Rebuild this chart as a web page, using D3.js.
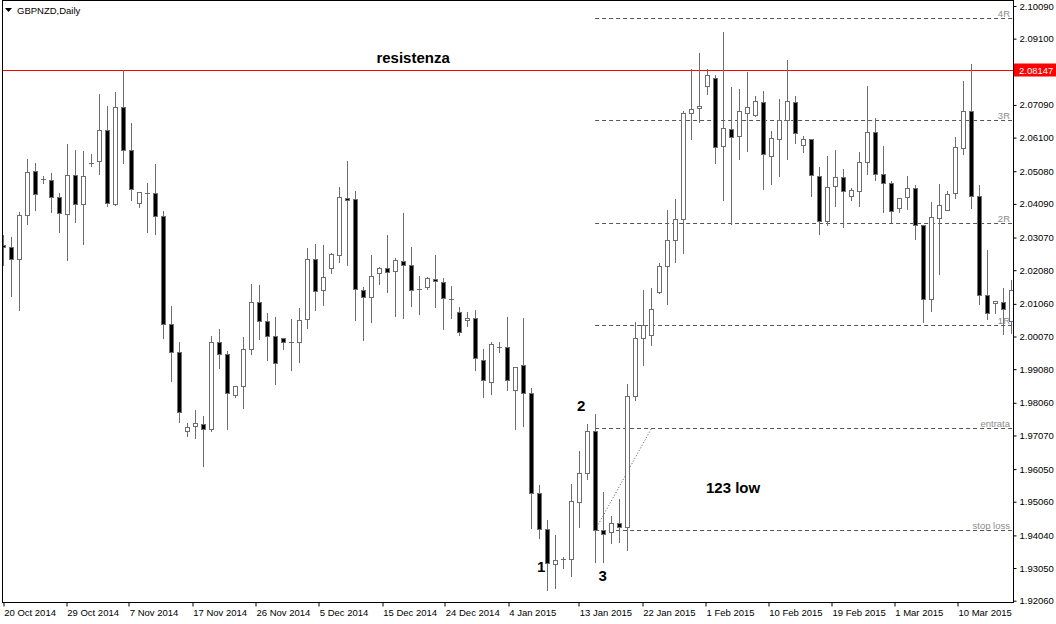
<!DOCTYPE html>
<html><head><meta charset="utf-8">
<script src="https://cdn.jsdelivr.net/npm/d3@7"></script>
<style>
html,body{margin:0;padding:0;background:#fff;}
svg{display:block;}
text{font-family:"Liberation Sans",Arial,sans-serif;}
</style></head><body>
<svg id="c" width="1056" height="624"></svg>
<script>
// ---- data (GBPNZD daily) ----
const openP = [2.02844,2.02774,2.02429,2.03745,2.05079,2.04845,2.04806,2.04290,2.03793,2.04957,2.04096,2.05330,2.05382,2.06322,2.04078,2.07019,2.05715,2.04108,2.04421,2.04412,
2.03714,2.00440,1.99591,1.97205,1.97347,1.97426,1.97257,1.99894,1.99530,1.98287,1.98560,1.99682,2.01107,2.00531,2.00076,2.00015,1.99894,1.99894,2.00591,2.02420,
2.01471,2.02138,2.02532,2.04278,2.04230,2.01471,2.01259,2.02004,2.02138,2.02047,2.02350,2.02229,2.01501,2.01580,2.01822,2.01731,2.01198,2.00804,2.00561,2.00622,
1.99348,1.98700,1.99743,1.99743,1.98457,1.99197,1.98348,1.95334,1.94225,1.93164,1.93315,1.93315,1.95062,1.95922,1.97214,1.94203,1.94134,1.94407,1.94294,1.98266,
2.00025,2.00116,2.01428,2.02198,2.02987,2.03623,2.06837,2.06989,2.07656,2.07898,2.05837,2.06370,2.06140,2.06837,2.06776,2.07171,2.05552,2.06049,2.06625,2.07171,
2.05867,2.06049,2.04927,2.03581,2.04624,2.04897,2.04321,2.04472,2.05351,2.06261,2.04988,2.04715,2.03957,2.04290,2.04563,2.03460,2.01198,2.03654,2.03896,2.04412,
2.05794,2.06898,2.04321,2.01319,2.01077,2.01116,2.00540];
const highP = [2.03147,2.03078,2.03854,2.05451,2.05330,2.04927,2.05027,2.04421,2.05906,2.05733,2.05694,2.05603,2.07431,2.07058,2.07474,2.08141,2.06543,2.04442,2.04724,2.05300,
2.03875,2.00995,1.99903,1.97438,1.97842,1.97660,2.00085,2.00297,1.99640,1.98560,2.00055,2.01662,2.01631,2.00783,2.00661,2.00015,2.00601,2.00934,2.02753,2.02874,
2.02844,2.02611,2.04603,2.05391,2.04481,2.01571,2.02541,2.02186,2.03147,2.02450,2.03814,2.02784,2.01904,2.01883,2.02541,2.01844,2.01601,2.00974,2.00804,2.00873,
1.99691,1.99903,1.99894,2.00670,1.99136,2.00631,1.98500,1.95577,1.94498,1.94052,1.93376,1.95598,1.96599,1.97408,1.97720,1.95355,1.94628,1.95143,1.98630,2.00519,
2.01480,2.01531,2.02298,2.03896,2.04239,2.06898,2.08171,2.08665,2.08189,2.07998,2.09311,2.07634,2.07574,2.08089,2.07352,2.07504,2.06300,2.07261,2.08453,2.07352,
2.06140,2.06049,2.05218,2.05533,2.05715,2.05148,2.04572,2.05655,2.07674,2.06685,2.05846,2.04776,2.04260,2.04936,2.04654,2.03460,2.04148,2.04694,2.04490,2.06109,
2.07807,2.08332,2.04654,2.02683,2.01137,2.01540,2.01783];
const lowP = [2.02238,2.01307,2.00873,2.03490,2.03914,2.04715,2.03854,2.03247,2.02398,2.03551,2.02884,2.05239,2.05006,2.04017,2.04066,2.05321,2.04208,2.03996,2.03238,2.03178,
2.00034,1.98730,1.97487,1.97062,1.97002,1.96153,1.97214,1.99124,1.97275,1.98227,1.97911,1.99530,2.00003,1.99367,1.98621,1.99700,1.99063,1.99306,2.00337,2.00883,
2.01034,2.02004,2.02338,2.02247,2.00579,1.99973,2.00519,2.01671,2.01410,2.00701,2.00622,2.01004,2.00761,2.01519,2.00974,2.00307,2.00640,2.00125,2.00397,1.99045,
1.98227,1.98336,1.99609,1.98457,1.97275,1.97357,1.94264,1.93970,1.92384,1.92445,1.93042,1.92818,1.94303,1.95759,1.93242,1.93242,1.93800,1.93831,1.93597,1.98145,
1.99206,1.99812,2.01398,2.01046,2.02338,2.02611,2.06067,2.06582,2.07431,2.05339,2.04218,2.03490,2.05461,2.05703,2.06755,2.04533,2.04703,2.04945,2.05442,2.05946,
2.05655,2.04321,2.03169,2.03441,2.04017,2.03381,2.04199,2.04017,2.05006,2.04815,2.03854,2.03541,2.03854,2.03945,2.03035,2.00519,2.00852,2.01974,2.03896,2.04278,
2.05612,2.03975,2.01046,2.00610,2.00773,2.00146,2.00176];
const closeP = [2.02784,2.02411,2.03745,2.05048,2.04381,2.04840,2.04299,2.03805,2.04957,2.04078,2.04927,2.05325,2.06322,2.04108,2.07019,2.05724,2.04533,2.04442,2.04418,2.03714,
2.00440,1.99591,1.97772,1.97335,1.97438,1.97257,1.99894,1.99530,1.98348,1.98560,1.99682,2.01107,2.00531,2.00076,1.99258,1.99894,1.99890,2.00561,2.02420,2.01440,
2.01874,2.02562,2.04290,2.04199,2.01501,2.01259,2.01895,2.02138,2.02016,2.02380,2.02229,2.01471,2.01498,2.01835,2.01744,2.01228,2.01195,2.00197,2.00622,1.99409,
1.98742,1.99834,1.99740,1.98760,1.99136,1.98348,1.95334,1.94225,1.93194,1.93285,1.93312,1.95074,1.95922,1.97196,1.94203,1.94082,1.94407,1.94294,1.98257,2.00025,
2.00419,2.00895,2.02198,2.02987,2.03623,2.06837,2.06958,2.07058,2.07989,2.05806,2.06382,2.06109,2.06898,2.07019,2.07201,2.05594,2.06079,2.06625,2.07201,2.06231,
2.06049,2.04957,2.03563,2.04593,2.04897,2.04472,2.04503,2.05351,2.06261,2.04988,2.04715,2.03866,2.04260,2.04572,2.03450,2.01198,2.03693,2.04048,2.04381,2.05806,
2.06898,2.04321,2.01319,2.00773,2.01137,2.00904,2.01480];

const priceTicks = [2.10090,2.09100,2.07090,2.06100,2.05080,2.04090,2.03070,2.02080,2.01060,2.00070,1.99080,1.98060,1.97070,1.96050,1.95060,1.94040,1.93050,1.92060];
const dateLabels = ["20 Oct 2014","29 Oct 2014","7 Nov 2014","17 Nov 2014","26 Nov 2014","5 Dec 2014","15 Dec 2014","24 Dec 2014","4 Jan 2015","13 Jan 2015","22 Jan 2015","1 Feb 2015","10 Feb 2015","19 Feb 2015","1 Mar 2015","10 Mar 2015"];
const dateTickBars = [-0.1,7.78,15.6,23.53,31.44,39.35,47.28,55.1,63.03,71.85,79.78,87.69,95.53,103.44,111.28,119.18];

const resistance = 2.08147;
const levelNames = ["4R","3R","2R","1R","entrata","stop loss"];
const levelPrices = [2.09738,2.06625,2.03502,2.00410,1.97287,1.94203];
const levelStartBar = 73.95;
const trendBars = [74.35, 81.0];
const trendPrices = [1.94372,1.97287];
const noteTexts = ["resistenza","1","2","3","123 low"];
const noteBars = [51.2,67.2,72.2,74.9,91.2];
const notePrices = [2.08514,1.93112,1.97993,1.92809,1.95477];

// ---- layout ----
const W = 1056, H = 624;
const plotL = 2, plotR = 1013, plotT = 0, plotB = 602;
const svg = d3.select("#c");
const x = d3.scaleLinear().domain([0, 126]).range([3.5, 1011.5]);
const y = d3.scaleLinear().domain([1.92060, 2.10090]).range([600.7, 6]);
const wickCol = "#6e6e6e";

svg.append("defs").append("clipPath").attr("id","clip")
  .append("rect").attr("x", plotL+0.5).attr("y", plotT+0.5).attr("width", plotR-plotL-0.5).attr("height", plotB-plotT-0.5);

const plot = svg.append("g").attr("clip-path","url(#clip)");

// level dashed lines
levelPrices.forEach((p,i)=>{
  const yy = Math.round(y(p))+0.5;
  plot.append("line").attr("x1", x(levelStartBar)).attr("x2", plotR).attr("y1", yy).attr("y2", yy)
    .attr("stroke","#555").attr("stroke-dasharray","4,3").attr("stroke-width",1);
  plot.append("text").attr("x", 1010).attr("y", yy-2).attr("text-anchor","end")
    .attr("font-size","9.5px").attr("fill","#8c8c8c").text(levelNames[i]);
});

// resistance
const ry = Math.round(y(resistance))+0.5;
plot.append("line").attr("x1", plotL).attr("x2", plotR).attr("y1", ry).attr("y2", ry).attr("stroke","#ff0000").attr("stroke-width",1);

// trend dotted line
plot.append("line").attr("x1", x(trendBars[0])).attr("y1", y(trendPrices[0]))
  .attr("x2", x(trendBars[1])).attr("y2", y(trendPrices[1]))
  .attr("stroke","#555").attr("stroke-width",1).attr("stroke-dasharray","1,2");

// candles
const idx = d3.range(openP.length);
const g = plot.append("g");
idx.forEach(i=>{
  const cx = x(i);
  const o = openP[i], c = closeP[i], h = highP[i], l = lowP[i];
  g.append("line").attr("x1", cx).attr("x2", cx)
    .attr("y1", Math.round(y(h))).attr("y2", Math.round(y(l))+1)
    .attr("stroke", wickCol).attr("stroke-width",1);
  const yt = Math.round(y(Math.max(o,c))), yb = Math.round(y(Math.min(o,c)));
  if (yb - yt < 1) {
    g.append("line").attr("x1", cx-2.5).attr("x2", cx+2.5).attr("y1", yt+0.5).attr("y2", yt+0.5)
      .attr("stroke", wickCol).attr("stroke-width",1);
  } else {
    g.append("rect").attr("x", cx-2).attr("y", yt+0.5).attr("width", 4).attr("height", yb-yt)
      .attr("fill", c >= o ? "#ffffff" : "#000000").attr("stroke", wickCol).attr("stroke-width",1);
  }
});

// annotations
noteTexts.forEach((t,i)=>{
  plot.append("text").attr("x", x(noteBars[i])).attr("y", y(notePrices[i]))
    .attr("text-anchor","middle").attr("dominant-baseline","central")
    .attr("font-size","15px").attr("font-weight","bold").attr("fill","#000").text(t);
});

// frame
svg.append("line").attr("x1", plotL+0.5).attr("x2", plotL+0.5).attr("y1", 0).attr("y2", plotB+0.5).attr("stroke","#000");
svg.append("line").attr("x1", plotR+0.5).attr("x2", plotR+0.5).attr("y1", 0).attr("y2", plotB+0.5).attr("stroke","#000");
svg.append("line").attr("x1", plotL).attr("x2", plotR+1).attr("y1", plotB+0.5).attr("y2", plotB+0.5).attr("stroke","#000");
svg.append("line").attr("x1", plotL).attr("x2", plotR+1).attr("y1", 0.5).attr("y2", 0.5).attr("stroke","#000");

// price axis
const yAxis = d3.axisRight(y).tickValues(priceTicks).tickFormat(d3.format(".5f")).tickSize(3).tickPadding(3);
const ya = svg.append("g").attr("transform", `translate(${plotR+0.5},0)`).call(yAxis);
ya.select(".domain").remove();
ya.selectAll("text").attr("font-family","'Liberation Sans',Arial,sans-serif").attr("font-size","9.5px").attr("fill","#000");
ya.selectAll("line").attr("stroke","#000");

// resistance price label
svg.append("rect").attr("x", plotR+1).attr("y", ry-7).attr("width", W-plotR-1).attr("height", 13).attr("fill","#ff0000");
svg.append("text").attr("x", plotR+6).attr("y", ry).attr("dominant-baseline","central")
  .attr("font-size","9.5px").attr("fill","#fff").text(d3.format(".5f")(resistance));

// date axis
const xAxis = d3.axisBottom(x).tickValues(dateTickBars).tickFormat((d,i)=>dateLabels[i]).tickSize(4).tickPadding(3);
const xa = svg.append("g").attr("transform", `translate(0,${plotB+0.5})`).call(xAxis);
xa.select(".domain").remove();
xa.selectAll(".tick line").attr("stroke","#000");
xa.selectAll(".tick line").attr("transform", d=>`translate(${Math.round(x(d))+0.5 - x(d)},0)`);
xa.selectAll("text").attr("text-anchor","start").attr("x", 1)
  .attr("font-family","'Liberation Sans',Arial,sans-serif").attr("font-size","9.5px").attr("fill","#000");

// title
svg.append("path").attr("d","M5,8 L12,8 L8.5,12 Z").attr("fill","#000");
svg.append("text").attr("x", 17).attr("y", 14).attr("font-size","9.5px").attr("fill","#000").text("GBPNZD,Daily");
</script>
</body></html>
